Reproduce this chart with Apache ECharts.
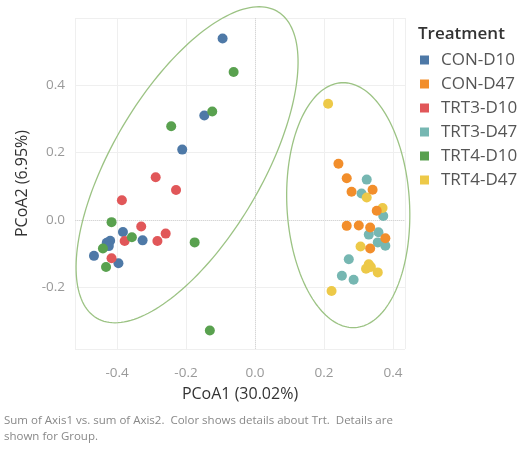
<!DOCTYPE html>
<html>
<head>
<meta charset="utf-8">
<script src="https://cdn.jsdelivr.net/npm/echarts@6/dist/echarts.min.js"></script>
<style>html,body{margin:0;padding:0;background:#fff;}#c{width:528px;height:452px;}</style>
</head>
<body>
<div id="c"></div>
<script>
// Treatment groups and their [PCoA1, PCoA2] coordinates
var treatments = ['CON-D10', 'CON-D47', 'TRT3-D10', 'TRT3-D47', 'TRT4-D10', 'TRT4-D47'];
var colors = ['#4E79A7', '#F28E2B', '#E15759', '#76B7B2', '#59A14F', '#EDC948'];

var conD10 = [[-0.094,0.537],[-0.147,0.309],[-0.211,0.208],[-0.383,-0.036],[-0.326,-0.061],
              [-0.430,-0.068],[-0.420,-0.062],[-0.424,-0.078],[-0.467,-0.107],[-0.396,-0.129]];
var conD47 = [[0.242,0.166],[0.266,0.123],[0.280,0.083],[0.341,0.089],[0.353,0.027],
              [0.266,-0.018],[0.301,-0.017],[0.334,-0.023],[0.378,-0.055],[0.334,-0.085]];
var trt3D10 = [[-0.288,0.126],[-0.229,0.088],[-0.386,0.058],[-0.330,-0.020],[-0.259,-0.041],
               [-0.283,-0.063],[-0.378,-0.063],[-0.416,-0.114]];
var trt3D47 = [[0.324,0.119],[0.309,0.078],[0.372,0.011],[0.358,-0.037],[0.330,-0.044],
               [0.356,-0.067],[0.378,-0.077],[0.272,-0.117],[0.252,-0.166],[0.286,-0.178]];
var trt4D10 = [[-0.062,0.438],[-0.124,0.321],[-0.243,0.277],[-0.416,-0.007],[-0.357,-0.052],
               [-0.175,-0.067],[-0.441,-0.085],[-0.432,-0.140],[-0.131,-0.328]];
var trt4D47 = [[0.212,0.344],[0.324,0.066],[0.370,0.035],[0.306,-0.079],[0.330,-0.132],
               [0.322,-0.145],[0.336,-0.140],[0.356,-0.156],[0.222,-0.211]];

// Grouping ellipses in data units: centre, first and second semi-diameter vectors
var ellipseCenters = [[-0.197, 0.163], [0.2704, 0.0433]];
var ellipseAxisA   = [[0.262, 0.4545], [-0.0145, 0.363]];
var ellipseAxisB   = [[0.187, -0.113], [0.178, 0.0]];

var xTicks = [-0.4, -0.2, 0.0, 0.2, 0.4];
var yTicks = [-0.2, 0.0, 0.2, 0.4];

var groups = [conD10, conD47, trt3D10, trt3D47, trt4D10, trt4D47];
var FONT = '"Open Sans", "Noto Sans", sans-serif';

var chart = echarts.init(document.getElementById('c'), null, {renderer: 'canvas'});

var series = [];
// zero reference lines (underneath everything)
series.push({
  type: 'scatter',
  name: 'zero',
  data: [],
  z: 0,
  silent: true,
  markLine: {
    silent: true,
    z: 0,
    zlevel: 0,
    symbol: 'none',
    label: {show: false},
    lineStyle: {color: '#d6d6d6', type: 'dotted', width: 1},
    data: [{xAxis: 0}, {yAxis: 0}]
  }
});
series.push({
  type: 'custom',
  name: 'ellipses',
  silent: true,
  clip: false,
  z: 1,
  data: ellipseCenters.map(function (c, i) { return [c[0], c[1], i]; }),
  renderItem: function (params, api) {
    var i = api.value(2);
    var c = ellipseCenters[i], a = ellipseAxisA[i], b = ellipseAxisB[i];
    var pts = [];
    for (var k = 0; k < 180; k++) {
      var t = k / 180 * Math.PI * 2;
      pts.push(api.coord([c[0] + a[0] * Math.cos(t) + b[0] * Math.sin(t),
                          c[1] + a[1] * Math.cos(t) + b[1] * Math.sin(t)]));
    }
    return {
      type: 'polygon',
      shape: {points: pts},
      style: {fill: 'none', stroke: '#9CC384', lineWidth: 1.3}
    };
  }
});

var order = [0, 2, 4, 3, 5, 1];
order.forEach(function (gi) {
  series.push({
    type: 'scatter',
    name: treatments[gi],
    data: groups[gi],
    symbolSize: 10,
    z: 3,
    itemStyle: {color: colors[gi], opacity: 1}
  });
});

chart.setOption({
  animation: false,
  backgroundColor: '#fff',
  color: colors,
  textStyle: {fontFamily: FONT},
  title: {
    text: 'Treatment',
    left: 418, top: 26,
    padding: 0,
    textStyle: {fontFamily: FONT, fontSize: 17, fontWeight: 600, color: '#333'}
  },
  legend: {
    data: treatments,
    orient: 'vertical',
    left: 420, top: 51,
    padding: 0,
    icon: 'rect',
    itemWidth: 9, itemHeight: 9,
    itemGap: 6,
    selectedMode: false,
    textStyle: {fontFamily: FONT, fontSize: 17, color: '#555', lineHeight: 18, padding: [0, 0, 0, 7]}
  },
  grid: {left: 75, right: 123, top: 18, bottom: 103},
  xAxis: {
    type: 'value',
    min: -0.522, max: 0.435,
    name: 'PCoA1 (30.02%)',
    nameLocation: 'middle',
    nameGap: 37,
    nameTextStyle: {fontFamily: FONT, fontSize: 16, color: '#333', fontWeight: 500},
    axisLine: {show: false},
    axisTick: {show: false},
    axisLabel: {
      showMinLabel: false, showMaxLabel: false,
      margin: 17, fontSize: 13.5, color: '#999', fontFamily: FONT,
      formatter: function (v) { return xTicks.indexOf(Math.round(v * 10) / 10) >= 0 ? v.toFixed(1) : ''; }
    },
    splitLine: {show: true, lineStyle: {color: '#efefef', width: 1}}
  },
  yAxis: {
    type: 'value',
    min: -0.383, max: 0.598,
    name: 'PCoA2 (6.95%)',
    nameLocation: 'middle',
    nameGap: 39,
    nameTextStyle: {fontFamily: FONT, fontSize: 16, color: '#333', fontWeight: 500},
    axisLine: {show: false},
    axisTick: {show: false},
    axisLabel: {
      showMinLabel: false, showMaxLabel: false,
      margin: 10, fontSize: 13.5, color: '#999', fontFamily: FONT,
      formatter: function (v) { return yTicks.indexOf(Math.round(v * 10) / 10) >= 0 ? v.toFixed(1) : ''; }
    },
    splitLine: {show: true, lineStyle: {color: '#efefef', width: 1}}
  },
  graphic: [{
    type: 'text',
    left: 4, top: 412,
    silent: true,
    style: {
      text: 'Sum of Axis1 vs. sum of Axis2.  Color shows details about Trt.  Details are\nshown for Group.',
      fontFamily: FONT, fontSize: 11.5, lineHeight: 16.5, fill: '#888'
    }
  }],
  series: series
});
</script>
</body>
</html>
